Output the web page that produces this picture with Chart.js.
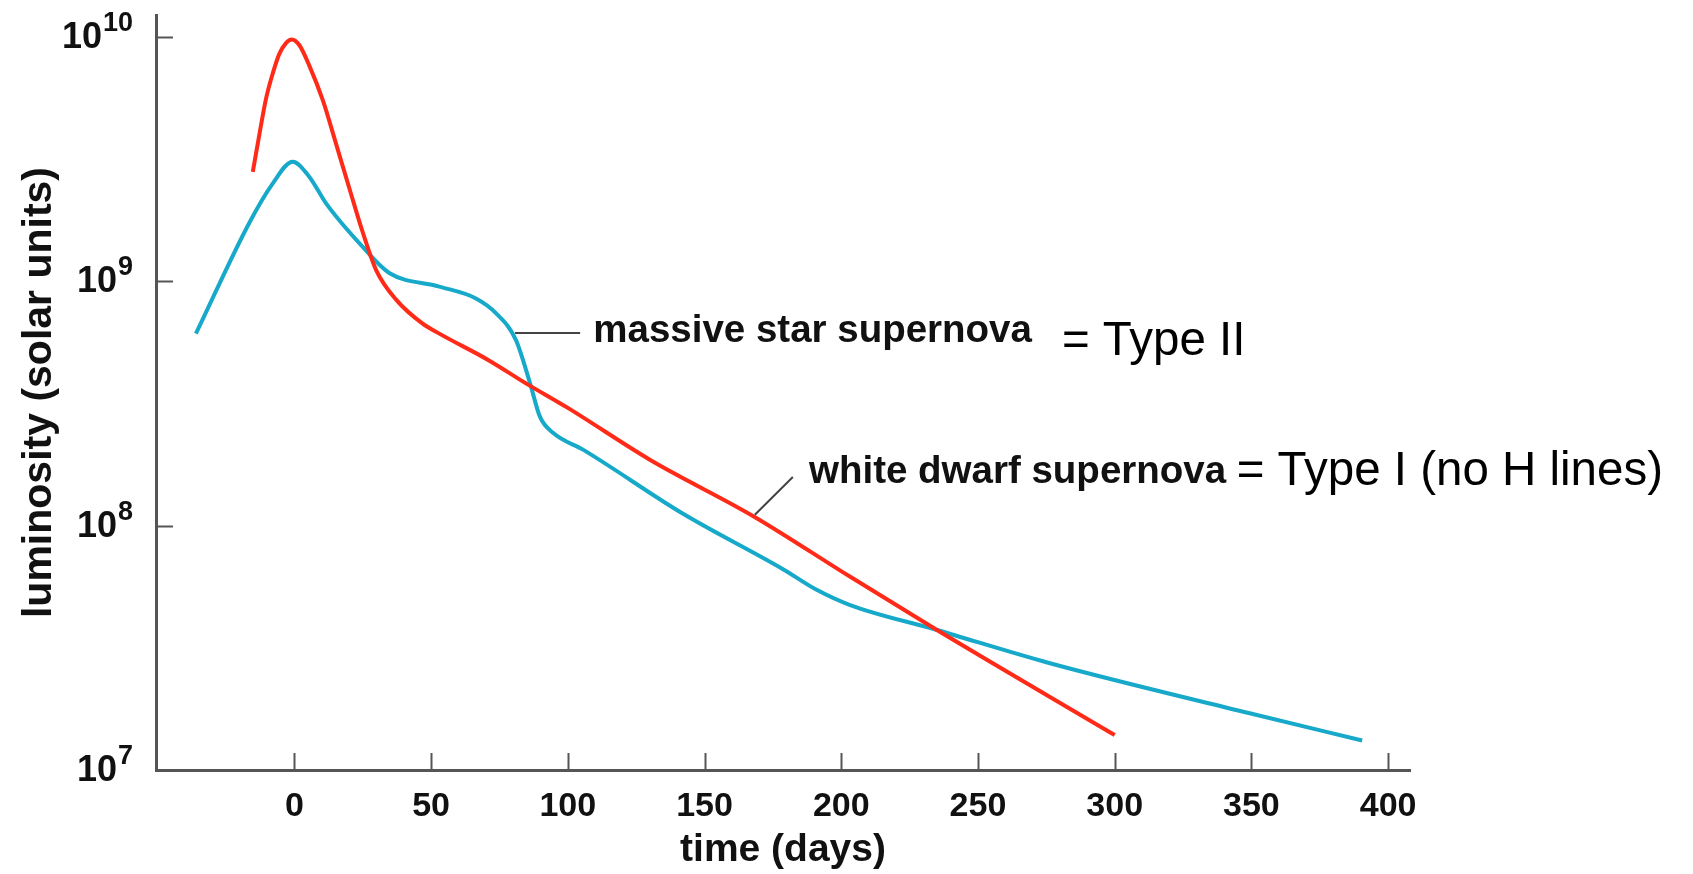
<!DOCTYPE html>
<html>
<head>
<meta charset="utf-8">
<script src="https://cdn.jsdelivr.net/npm/chart.js@4"></script>
<style>
  html, body { margin: 0; padding: 0; background: #fff; }
  #wrap { width: 1693px; height: 874px; position: relative; }
</style>
</head>
<body>
<div id="wrap"><canvas id="lightcurve"></canvas></div>
<script>
// Curvas de luz (dias x luminosidade solar)
const whiteDwarfDays = [-15.2, -12.8, -10.3, -7.9, -5.5, -3, -1, 1.8, 5.5, 10.4, 15.2, 20.1, 25, 29.9, 37.2, 46.9, 53, 71, 85, 100, 130, 168, 203, 235, 300];
const whiteDwarfLum  = [2.8e9, 3.98e9, 5.62e9, 7.08e9, 8.51e9, 9.44e9, 9.75e9, 9.25e9, 7.6e9, 5.5e9, 3.66e9, 2.4e9, 1.585e9, 1.11e9, 8.4e8, 6.7e8, 6.1e8, 4.75e8, 3.8e8, 3.03e8, 1.86e8, 1.09e8, 6.2e7, 3.74e7, 1.39e7];

const massiveDays = [-36, -16.5, -8, -0.6, 5.5, 11.6, 25, 34.7, 53, 66.4, 73.7, 81, 86.2, 89.8, 94.7, 105.7, 142, 179, 191, 203, 235, 276, 349, 390.5];
const massiveLum  = [6.1e8, 1.73e9, 2.5e9, 3.08e9, 2.67e9, 2.08e9, 1.38e9, 1.08e9, 9.5e8, 8.5e8, 7.4e8, 5.75e8, 3.82e8, 2.79e8, 2.39e8, 2.04e8, 1.12e8, 6.6e7, 5.46e7, 4.74e7, 3.74e7, 2.74e7, 1.71e7, 1.32e7];

const xTicks = [0, 50, 100, 150, 200, 250, 300, 350, 400];
const yTicks = [1e7, 1e8, 1e9, 1e10];
const yExponents = ['7', '8', '9', '10'];

const FONT = "'Liberation Sans', Arial, Helvetica, sans-serif";
Chart.defaults.font.family = FONT;

const toPoints = (xs, ys) => xs.map((x, i) => ({ x, y: ys[i] }));

// Ticks para dentro, rótulos 10^n e anotações
const decor = {
  id: 'decor',
  afterDraw(chart) {
    const { ctx, chartArea, scales: { x, y } } = chart;
    ctx.save();
    ctx.strokeStyle = '#555';
    ctx.lineWidth = 2;
    xTicks.forEach(v => {
      const px = Math.round(x.getPixelForValue(v)) + 0.5;
      ctx.beginPath();
      ctx.moveTo(px, chartArea.bottom);
      ctx.lineTo(px, chartArea.bottom - 17);
      ctx.stroke();
    });
    yTicks.forEach(v => {
      const py = Math.round(y.getPixelForValue(v)) + 0.5;
      ctx.beginPath();
      ctx.moveTo(chartArea.left, py);
      ctx.lineTo(chartArea.left + 17, py);
      ctx.stroke();
    });

    // rótulos do eixo y
    ctx.fillStyle = '#111';
    ctx.textBaseline = 'alphabetic';
    ctx.textAlign = 'right';
    yTicks.forEach((v, i) => {
      const py = y.getPixelForValue(v);
      ctx.font = `bold 27px ${FONT}`;
      const ew = ctx.measureText(yExponents[i]).width;
      const right = chartArea.left - 23;
      ctx.fillText(yExponents[i], right, py - 6);
      ctx.font = `bold 36px ${FONT}`;
      ctx.fillText('10', right - ew - 1, py + 11);
    });

    // linhas indicadoras
    ctx.strokeStyle = '#444';
    ctx.lineWidth = 2;
    ctx.beginPath();
    ctx.moveTo(x.getPixelForValue(80.7), y.getPixelForValue(6.14e8));
    ctx.lineTo(x.getPixelForValue(104.5), y.getPixelForValue(6.14e8));
    ctx.moveTo(x.getPixelForValue(168.4), y.getPixelForValue(1.107e8));
    ctx.lineTo(x.getPixelForValue(182.3), y.getPixelForValue(1.58e8));
    ctx.stroke();

    ctx.textAlign = 'left';
    ctx.fillStyle = '#111';
    ctx.font = `bold 38.5px ${FONT}`;
    ctx.fillText('massive star supernova', x.getPixelForValue(109.3), y.getPixelForValue(5.64e8));
    ctx.fillText('white dwarf supernova', x.getPixelForValue(188.2), y.getPixelForValue(1.50e8));
    ctx.fillStyle = '#000';
    ctx.font = `47.5px ${FONT}`;
    ctx.fillText('= Type II', x.getPixelForValue(280.7), y.getPixelForValue(4.99e8));
    ctx.fillText('= Type I (no H lines)', x.getPixelForValue(344.6), y.getPixelForValue(1.47e8));
    ctx.restore();
  }
};

new Chart(document.getElementById('lightcurve'), {
  type: 'line',
  data: {
    datasets: [
      {
        label: 'white dwarf supernova',
        data: toPoints(whiteDwarfDays, whiteDwarfLum),
        borderColor: '#FF2A17',
        borderWidth: 4,
        pointRadius: 0,
        cubicInterpolationMode: 'monotone',
        fill: false
      },
      {
        label: 'massive star supernova',
        data: toPoints(massiveDays, massiveLum),
        borderColor: '#17A9C9',
        borderWidth: 4,
        pointRadius: 0,
        cubicInterpolationMode: 'monotone',
        fill: false
      }
    ]
  },
  options: {
    responsive: true,
    maintainAspectRatio: false,
    animation: false,
    layout: { padding: { left: 0, right: 283, top: 15, bottom: 0 } },
    plugins: { legend: { display: false }, tooltip: { enabled: false } },
    scales: {
      x: {
        type: 'linear',
        min: -50.6,
        max: 408,
        afterBuildTicks: s => { s.ticks = xTicks.map(v => ({ value: v })); },
        afterFit: s => { s.height = 104; },
        grid: { display: false, drawTicks: false },
        border: { display: true, color: '#555', width: 3 },
        ticks: { color: '#111', padding: 16, font: { size: 34, weight: 'bold' } },
        title: { display: true, text: 'time (days)', color: '#111', font: { size: 39, weight: 'bold' }, padding: { top: 0, bottom: 0 } }
      },
      y: {
        type: 'logarithmic',
        min: 1e7,
        max: 1.227e10,
        afterBuildTicks: s => { s.ticks = yTicks.map(v => ({ value: v })); },
        afterFit: s => { s.width = 156; },
        grid: { display: false, drawTicks: false },
        border: { display: true, color: '#555', width: 3 },
        ticks: { display: false },
        title: { display: true, text: 'luminosity (solar units)', color: '#111', font: { size: 41, weight: 'bold' }, padding: { top: 15, bottom: 0 } }
      }
    }
  },
  plugins: [decor]
});
</script>
</body>
</html>
